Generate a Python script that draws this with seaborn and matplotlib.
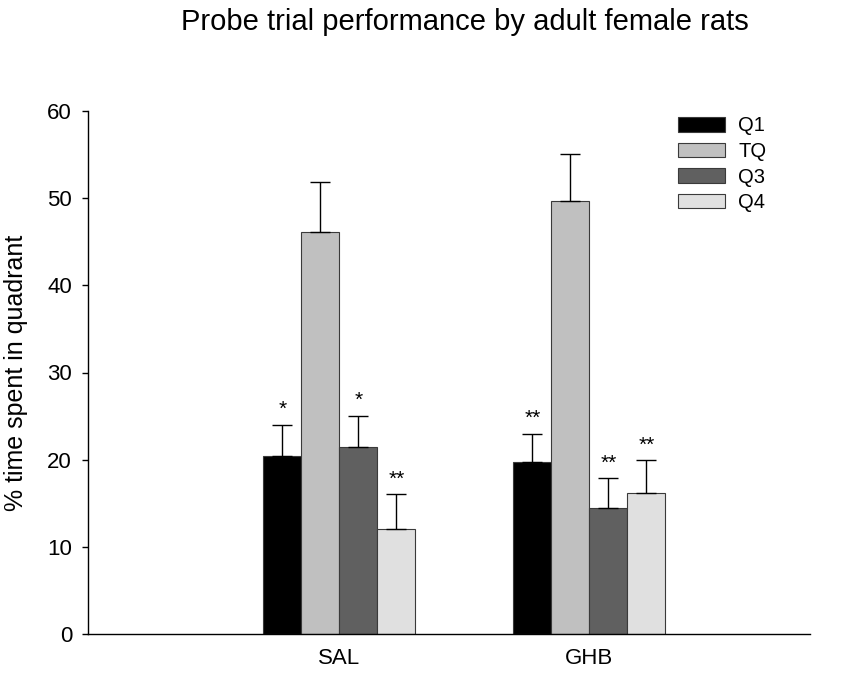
import matplotlib
matplotlib.use("Agg")
import matplotlib.pyplot as plt
import numpy as np
import pandas as pd
import seaborn as sns

# data
groups = ['SAL', 'GHB']
quadrants = ['Q1', 'TQ', 'Q3', 'Q4']
sal_mean = [20.4, 46.1, 21.5, 12.05]
ghb_mean = [19.7, 49.65, 14.5, 16.2]
sal_sem = [3.6, 5.7, 3.55, 4.0]
ghb_sem = [3.3, 5.45, 3.4, 3.75]
sal_stars = ['*', '', '*', '**']
ghb_stars = ['**', '', '**', '**']

colors = ['#000000', '#c0c0c0', '#606060', '#e0e0e0']

df = pd.DataFrame({
    'group': np.repeat(groups, len(quadrants)),
    'quadrant': quadrants * len(groups),
    'mean': sal_mean + ghb_mean,
    'sem': sal_sem + ghb_sem,
    'star': sal_stars + ghb_stars,
})

sns.set_style('ticks')
plt.rcParams['font.family'] = ['Liberation Sans', 'DejaVu Sans']
plt.rcParams.update({'text.color': 'black', 'axes.labelcolor': 'black',
                     'xtick.color': 'black', 'ytick.color': 'black'})

fig = plt.figure(figsize=(8.45, 6.78), dpi=100)
ax = fig.add_axes([88 / 845, 44 / 678, 722 / 845, 523 / 678])

sns.barplot(data=df, x='group', y='mean', hue='quadrant', order=groups,
            hue_order=quadrants, palette=colors, width=0.608, gap=0,
            errorbar=None, edgecolor='#3a3a3a', linewidth=0.8, ax=ax)

# upward-only error bars and significance marks, placed on the drawn bars
for cont, q in zip(ax.containers, quadrants):
    sub = df[df['quadrant'] == q].set_index('group').loc[groups]
    xs = [b.get_x() + b.get_width() / 2 for b in cont]
    ys = sub['mean'].values
    es = sub['sem'].values
    ax.errorbar(xs, ys, yerr=[np.zeros_like(es), es], fmt='none',
                ecolor='black', elinewidth=1.0, capsize=7, capthick=1.0)
    for x, y, e, s in zip(xs, ys, es, sub['star'].values):
        if s:
            ax.annotate(s, (x, y + e), xytext=(0, 4), textcoords='offset points',
                        ha='center', va='bottom', fontsize=15)

ax.set_xlim(-1.006, 1.882)
ax.set_ylim(0, 60)
ax.set_yticks([0, 10, 20, 30, 40, 50, 60])
ax.tick_params(axis='y', labelsize=16, length=4.5, width=1, pad=7, direction='out')
ax.tick_params(axis='x', labelsize=16, length=0, pad=10)
ax.set_xlabel('')
ax.set_ylabel('% time spent in quadrant', fontsize=18, labelpad=13.5)
sns.despine(ax=ax)
for sp in ['left', 'bottom']:
    ax.spines[sp].set_linewidth(1.0)
    ax.spines[sp].set_color('black')

ax.legend(title=None, frameon=False, loc='upper left',
          bbox_to_anchor=(0.8172, 0.9895), fontsize=14.5, handlelength=2.34,
          handleheight=0.75, labelspacing=0.325, handletextpad=0.65,
          borderpad=0, borderaxespad=0)

fig.text(465 / 845, 1 - 22 / 678, 'Probe trial performance by adult female rats',
         ha='center', va='center', fontsize=21)

fig.savefig('out.png', dpi=100)
